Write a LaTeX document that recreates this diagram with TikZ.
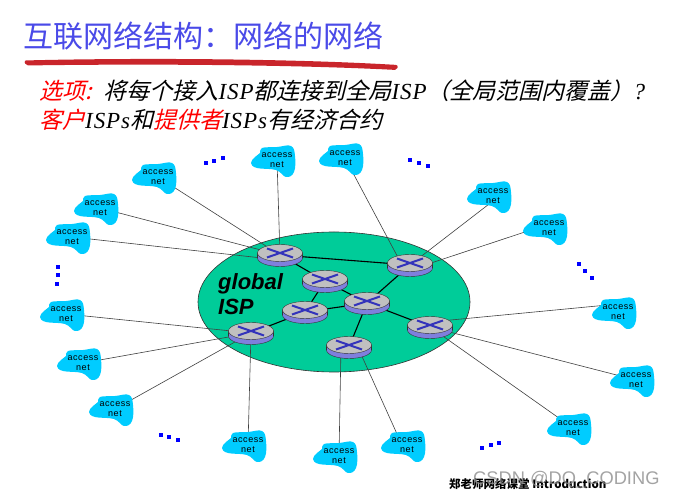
\documentclass[tikz,border=0pt]{standalone}
\usepackage{fontspec}
\setmainfont{Liberation Sans}
\newfontfamily\cjkfont{Noto Sans CJK SC}
\newfontfamily\cjkslant[FakeSlant=0.25]{Noto Sans CJK SC}
\newfontfamily\ispfont[LetterSpace=4]{Liberation Serif}
\newfontfamily\netfont[LetterSpace=6]{Liberation Sans}
\usetikzlibrary{backgrounds}
\definecolor{ispgreen}{HTML}{00CC99}
\definecolor{cloudblue}{HTML}{00CCFF}
\definecolor{routerside}{HTML}{7F7FDD}
\definecolor{routertop}{HTML}{C0C0C0}
\definecolor{routercross}{HTML}{3333BB}
\definecolor{titleblue}{HTML}{4A4AE8}
\definecolor{strokered}{HTML}{C9252B}
\newcommand{\isptext}[1]{{\ispfont\itshape\fontsize{23}{26}\selectfont #1}}
\tikzset{
    accessnet/.style={align=center, inner sep=0pt, text=black,
        font=\netfont\fontsize{9}{10}\selectfont},
    router/.style={circle, inner sep=0pt, minimum size=14pt},
    netlink/.style={draw=black!75, line width=0.6pt},
    corelink/.style={draw=black, line width=1.1pt},
    dots/.style={fill=blue, minimum size=4pt, inner sep=0pt},
    headline/.style={anchor=west, inner sep=0pt, font=\cjkslant\fontsize{23}{26}\selectfont}
}
\begin{document}
\begin{tikzpicture}[x=1pt, y=-1pt]
    \useasboundingbox (0, 0) rectangle (673, 502);

    % headings
    \node[anchor=west, inner sep=0pt, text=titleblue, font=\cjkfont\fontsize{30}{32}\selectfont] (title) at (23, 36) {互联网络结构：网络的网络};
    \node[headline] (line1) at (39, 91) {\textcolor{red}{选项:}\hspace{12pt}将每个接入\isptext{ISP}都连接到全局\isptext{ISP}（全局范围内覆盖）\isptext{?}};
    \node[headline] (line2) at (39, 120) {\textcolor{red}{客户}\isptext{ISPs}和\textcolor{red}{提供者}\isptext{ISPs}有经济合约};
    \fill[strokered, rounded corners=2pt] (24, 60.5) .. controls (120, 58) and (280, 58) .. (398, 65) -- (397, 70) .. controls (280, 64) and (120, 64) .. (26, 65.5) -- cycle;

    % access nets
    \node[accessnet] (an1) at (158, 177) {access\\net};
    \node[accessnet] (an2) at (100, 208) {access\\net};
    \node[accessnet] (an3) at (72, 237) {access\\net};
    \node[accessnet] (an4) at (66, 314) {access\\net};
    \node[accessnet] (an5) at (83, 363) {access\\net};
    \node[accessnet] (an6) at (115, 409) {access\\net};
    \node[accessnet] (an7) at (248, 445) {access\\net};
    \node[accessnet] (an8) at (339, 456) {access\\net};
    \node[accessnet] (an9) at (407, 445) {access\\net};
    \node[accessnet] (an10) at (573, 428) {access\\net};
    \node[accessnet] (an11) at (636, 380) {access\\net};
    \node[accessnet] (an12) at (618, 312) {access\\net};
    \node[accessnet] (an13) at (549, 228) {access\\net};
    \node[accessnet] (an14) at (493, 196) {access\\net};
    \node[accessnet] (an15) at (345, 158) {access\\net};
    \node[accessnet] (an16) at (277, 160) {access\\net};

    % routers
    \node[router] (r1) at (280, 255) {};
    \node[router] (r2) at (325, 281) {};
    \node[router] (r3) at (410, 265) {};
    \node[router] (r4) at (367, 303) {};
    \node[router] (r5) at (305, 312) {};
    \node[router] (r6) at (251, 333) {};
    \node[router] (r7) at (430, 327) {};
    \node[router] (r8) at (349, 347) {};

    \node[anchor=west, align=left, inner sep=0pt, font=\bfseries\itshape\fontsize{22}{25}\selectfont] (isp) at (218, 294) {global\\ISP};

    % the dots
    \node[dots] (d1) at (205.5, 163) {};
    \node[dots] (d2) at (214, 161) {};
    \node[dots] (d3) at (222.5, 158) {};
    \node[dots] (d4) at (410, 160) {};
    \node[dots] (d5) at (419, 163) {};
    \node[dots] (d6) at (428, 166) {};
    \node[dots] (d7) at (579, 264) {};
    \node[dots] (d8) at (585, 271) {};
    \node[dots] (d9) at (592, 278) {};
    \node[dots] (d10) at (58, 267) {};
    \node[dots] (d11) at (57.5, 275) {};
    \node[dots] (d12) at (57, 284) {};
    \node[dots] (d13) at (161, 435) {};
    \node[dots] (d14) at (169, 437.5) {};
    \node[dots] (d15) at (178, 440) {};
    \node[dots] (d16) at (482, 448) {};
    \node[dots] (d17) at (490.5, 445.5) {};
    \node[dots] (d18) at (499, 443) {};

    % footer
    \node[anchor=west, inner sep=0pt, font=\cjkfont\bfseries\fontsize{11.5}{13}\selectfont] (foot) at (449, 484) {郑老师网络课堂 \textit{Introduction}};
    \node[anchor=west, inner sep=0pt, text=black!45, opacity=0.8, font=\fontsize{18.3}{20}\selectfont] (mark) at (473, 480) {CSDN @DQ\_CODING};

    \begin{scope}[on background layer]
        \fill[ispgreen] (334, 302) ellipse [x radius=136, y radius=70];
        \draw[black!80, line width=0.6pt] (334, 302) ellipse [x radius=136, y radius=70];

        \draw[netlink] (an1) -- (r1);
        \draw[netlink] (an2) -- (r1);
        \draw[netlink] (an3) -- ([yshift=-5pt]r1.center);
        \draw[netlink] (an16) -- (r1);
        \draw[netlink] (an4) -- (r6);
        \draw[netlink] (an5) -- (r6);
        \draw[netlink] (an6) -- (r6);
        \draw[netlink] (an7) -- (r6);
        \draw[netlink] (an8) -- ([xshift=-8pt]r8.center);
        \draw[netlink] ([xshift=-5pt]an9.center) -- ([xshift=11pt, yshift=-5pt]r8.center);
        \draw[netlink] (an10) -- (r7);
        \draw[netlink] (an11) -- (r7);
        \draw[netlink] ([yshift=8pt]an12.center) -- ([yshift=5pt]r7.center);
        \draw[netlink] ([yshift=4pt]an13.center) -- ([yshift=-5pt]r3.center);
        \draw[netlink] ([yshift=-5pt]an14.center) -- (r3);
        \draw[netlink] (an15) -- ([xshift=-8pt]r3.center);

        \draw[corelink] (r1) -- (r3);
        \draw[corelink] (r1) -- (r2);
        \draw[corelink] (r2) -- (r5);
        \draw[corelink] (r2) -- (r4);
        \draw[corelink] (r5) -- (r4);
        \draw[corelink] (r5) -- (r6);
        \draw[corelink] (r3) -- (r4);
        \draw[corelink] (r4) -- (r7);
        \draw[corelink] (r4) -- (r8);

        \foreach \n in {an1,an2,an3,an4,an5,an6,an7,an8,an9,an10,an11,an12,an13,an14,an15,an16}
            \fill[cloudblue, shift={(\n.center)}] plot[smooth cycle, tension=0.7] coordinates
                {(-15,-12) (0,-13) (14,-14) (18,-4) (17,12) (9,17) (-1,10) (-20,8) (-26,3) (-22,-3) (-17,-7)};

        \foreach \r in {r1,r2,r3,r4,r5,r6,r7,r8} {
            \begin{scope}[shift={(\r.center)}]
                \filldraw[fill=routerside, draw=black!80, line width=0.4pt] (0, 3) ellipse [x radius=22.5, y radius=8.5];
                \fill[routerside] (-22.5, -2) rectangle (22.5, 3);
                \draw[black!80, line width=0.4pt] (-22.5, -2) -- (-22.5, 3) (22.5, -2) -- (22.5, 3);
                \filldraw[fill=routertop, draw=black!80, line width=0.4pt] (0, -2) ellipse [x radius=22.5, y radius=8.5];
                \draw[routercross, line width=2pt] (-13, -6.5) -- (13, 2.5) (-13, 2.5) -- (13, -6.5);
            \end{scope}
        }
    \end{scope}
\end{tikzpicture}
\end{document}
